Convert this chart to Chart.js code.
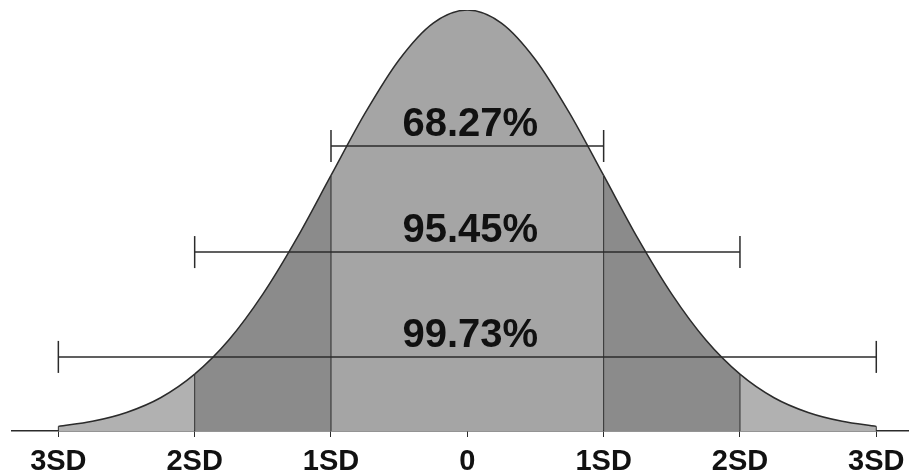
<!DOCTYPE html>
<html>
<head>
<meta charset="utf-8">
<script src="https://cdn.jsdelivr.net/npm/chart.js@4.4.0/dist/chart.umd.min.js"></script>
<style>
  html, body { margin: 0; padding: 0; background: #fff; }
  #wrap { width: 909px; height: 474px; }
</style>
</head>
<body>
<div id="wrap"><canvas id="grafico"></canvas></div>
<script>
// curve heights (peak = 100), every quarter SD
const sdSteps = [-3, -2.75, -2.5, -2.25, -2, -1.75, -1.5, -1.25, -1, -0.75, -0.5, -0.25, 0,
                 0.25, 0.5, 0.75, 1, 1.25, 1.5, 1.75, 2, 2.25, 2.5, 2.75, 3];
const curveHeights = [1.1, 2.3, 4.4, 7.9, 13.5, 21.6, 32.5, 45.8, 60.7, 75.5, 88.2, 96.9, 100,
                      96.9, 88.2, 75.5, 60.7, 45.8, 32.5, 21.6, 13.5, 7.9, 4.4, 2.3, 1.1];

const tickValues = [-3, -2, -1, 0, 1, 2, 3];
const tickLabels = ['3SD', '2SD', '1SD', '0', '1SD', '2SD', '3SD'];

// vertical dividers under the curve
const dividerSD = [-3, -2, -1, 1, 2, 3];

// interval bars
const barLabels = ['68.27%', '95.45%', '99.73%'];
const barHalfWidth = [1, 2, 3];
const barLevels = [67.7, 42.5, 17.6];

const lineColor = '#2b2b2b';
const curvePts = sdSteps.map((x, i) => ({ x: x, y: curveHeights[i] }));

function zoneColor(x) {
    const a = Math.abs(x);
    if (a < 1) return '#a5a5a5';
    if (a < 2) return '#8b8b8b';
    return '#b1b1b1';
}

const datasets = [{
    data: curvePts,
    borderColor: lineColor,
    borderWidth: 1.5,
    pointRadius: 0,
    cubicInterpolationMode: 'monotone',
    fill: 'origin',
    backgroundColor: '#a5a5a5',
    segment: {
        backgroundColor: ctx => zoneColor((ctx.p0.parsed.x + ctx.p1.parsed.x) / 2)
    },
    order: 10
}];

dividerSD.forEach(sd => {
    const h = curveHeights[sdSteps.indexOf(sd)];
    datasets.push({
        data: [{ x: sd, y: 0 }, { x: sd, y: h }],
        borderColor: lineColor,
        borderWidth: 1,
        pointRadius: 0,
        fill: false,
        order: 5
    });
});

barLabels.forEach((lbl, i) => {
    datasets.push({
        label: lbl,
        data: [{ x: -barHalfWidth[i], y: barLevels[i] }, { x: barHalfWidth[i], y: barLevels[i] }],
        borderColor: lineColor,
        borderWidth: 1.5,
        pointStyle: 'line',
        rotation: 90,
        pointRadius: 16,
        pointBorderWidth: 1.5,
        pointBorderColor: lineColor,
        fill: false,
        order: 1
    });
});

const barText = {
    id: 'barText',
    afterDatasetsDraw(chart) {
        const { ctx, scales: { x, y } } = chart;
        ctx.save();
        ctx.font = 'bold 40px "Liberation Sans", Arial, sans-serif';
        ctx.fillStyle = '#111';
        ctx.textAlign = 'center';
        ctx.textBaseline = 'alphabetic';
        barLabels.forEach((lbl, i) => {
            ctx.fillText(lbl, x.getPixelForValue(0) + 3, y.getPixelForValue(barLevels[i]) - 10);
        });
        ctx.restore();
    }
};

new Chart(document.getElementById('grafico'), {
    type: 'line',
    data: { datasets: datasets },
    options: {
        responsive: true,
        maintainAspectRatio: false,
        animation: false,
        layout: { autoPadding: false, padding: { top: 10, left: 12, right: 0, bottom: 0 } },
        plugins: { legend: { display: false }, tooltip: { enabled: false } },
        scales: {
            x: {
                type: 'linear',
                min: -3.34,
                max: 3.24,
                afterBuildTicks: s => { s.ticks = tickValues.map(v => ({ value: v })); },
                afterFit: s => { s.paddingLeft = 0; s.paddingRight = 0; s.height = 43; },
                grid: { drawOnChartArea: false, drawTicks: true, tickLength: 6, color: lineColor },
                border: { display: true, color: lineColor, width: 1.5 },
                ticks: {
                    autoSkip: false,
                    maxRotation: 0,
                    padding: 8,
                    color: '#111',
                    font: { family: '"Liberation Sans", Arial, sans-serif', size: 29, weight: 'bold' },
                    callback: v => tickLabels[tickValues.indexOf(v)]
                }
            },
            y: { display: false, min: 0, max: 100 }
        }
    },
    plugins: [barText]
});
</script>
</body>
</html>
